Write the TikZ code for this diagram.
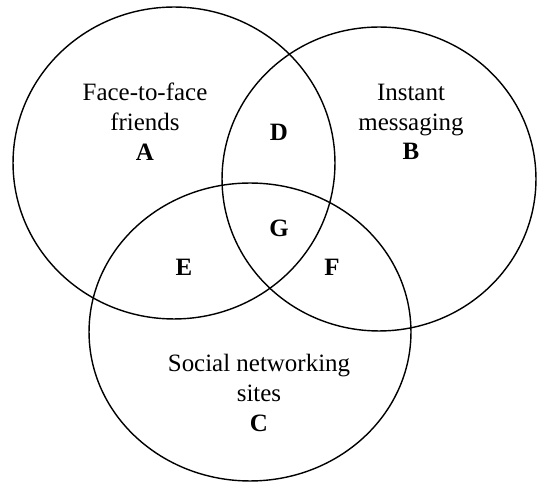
\documentclass[tikz,border=0pt]{standalone}
\usepackage{fontspec}
\setmainfont{Liberation Serif}
\usetikzlibrary{shapes.geometric, positioning}

\begin{document}
\begin{tikzpicture}[x=0.02cm, y=-0.02cm]
    % スタイル定義
    \tikzstyle{set} = [draw, ellipse, line width=0.8pt, inner sep=0pt]
    \tikzstyle{label} = [align=center, font=\fontsize{14.2}{17}\selectfont]
    \tikzstyle{region} = [font=\fontsize{14.2}{17}\selectfont\bfseries]

    \useasboundingbox (0,0) rectangle (537,482);

    % 円
    \node [set, minimum width=6.44cm, minimum height=6.24cm] (setA) at (174,163) {};
    \node [set, minimum width=6.28cm, minimum height=6.08cm] (setB) at (379,179) {};
    \node [set, minimum width=6.44cm, minimum height=5.96cm] (setC) at (250,332) {};

    % ラベル
    \node [label] (nameA) at (145,122) {Face-to-face\\friends\\\textbf{A}};
    \node [label] (nameB) at (411,122) {Instant\\messaging\\\textbf{B}};
    \node [label] (nameC) at (259,393) {Social networking\\sites\\\textbf{C}};
    \node [region] (D) at (279,132) {D};
    \node [region] (G) at (279,228) {G};
    \node [region] (E) at (184,267) {E};
    \node [region] (F) at (332,267) {F};
\end{tikzpicture}
\end{document}
